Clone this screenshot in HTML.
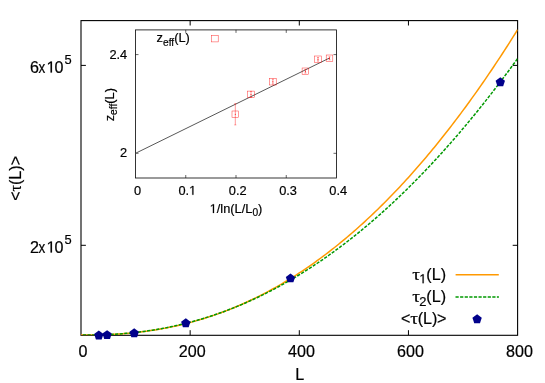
<!DOCTYPE html>
<html><head><meta charset="utf-8"><style>
html,body{margin:0;padding:0;background:#fff;}
svg{display:block;opacity:0.999;will-change:transform}
text{font-family:"Liberation Sans",sans-serif;fill:#000;stroke:#000;stroke-width:0.2px;}
.t{font-size:16.1px}
.s{font-size:12.9px}
.h{fill:none;stroke:none}
.ser{font-family:"Liberation Serif",serif;}
</style></head><body>
<svg width="545" height="383" viewBox="0 0 545 383">
<rect x="0" y="0" width="545" height="383" fill="#fff"/>
<!-- main frame -->
<rect x="81.0" y="20.6" width="436.6" height="314.70" fill="none" stroke="#000" stroke-width="1.1"/>
<g stroke="#000" stroke-width="1" fill="none">
<path d="M81.0,65.4 h4.9 M517.6,65.4 h-4.9 M81.0,245.3 h4.9 M517.6,245.3 h-4.9"/>
<path d="M190.15,335.1 v-4.9 M299.30,335.1 v-4.9 M408.45,335.1 v-4.9 M190.15,20.6 v4.9 M299.30,20.6 v4.9 M408.45,20.6 v4.9"/>
</g>
<!-- main curves -->
<clipPath id="cp"><rect x="81.0" y="20.6" width="436.6" height="314.65"/></clipPath>
<g clip-path="url(#cp)">
<path d="M81.00,335.10 L83.18,335.10 L85.37,335.09 L87.55,335.08 L89.73,335.06 L91.91,335.04 L94.10,335.00 L96.28,334.96 L98.46,334.91 L100.65,334.85 L102.83,334.79 L105.01,334.71 L107.20,334.62 L109.38,334.53 L111.56,334.42 L113.75,334.30 L115.93,334.18 L118.11,334.04 L120.29,333.89 L122.48,333.73 L124.66,333.56 L126.84,333.38 L129.03,333.18 L131.21,332.98 L133.39,332.76 L135.57,332.53 L137.76,332.28 L139.94,332.03 L142.12,331.76 L144.31,331.48 L146.49,331.19 L148.67,330.88 L150.86,330.56 L153.04,330.23 L155.22,329.89 L157.41,329.53 L159.59,329.15 L161.77,328.77 L163.95,328.37 L166.14,327.95 L168.32,327.53 L170.50,327.09 L172.69,326.63 L174.87,326.16 L177.05,325.67 L179.24,325.17 L181.42,324.66 L183.60,324.13 L185.78,323.59 L187.97,323.03 L190.15,322.46 L192.33,321.87 L194.52,321.26 L196.70,320.65 L198.88,320.01 L201.06,319.36 L203.25,318.70 L205.43,318.02 L207.61,317.32 L209.80,316.61 L211.98,315.88 L214.16,315.14 L216.35,314.38 L218.53,313.60 L220.71,312.81 L222.90,312.00 L225.08,311.18 L227.26,310.34 L229.44,309.48 L231.63,308.60 L233.81,307.71 L235.99,306.81 L238.18,305.88 L240.36,304.94 L242.54,303.99 L244.72,303.01 L246.91,302.02 L249.09,301.01 L251.27,299.99 L253.46,298.94 L255.64,297.88 L257.82,296.81 L260.01,295.71 L262.19,294.60 L264.37,293.47 L266.56,292.32 L268.74,291.16 L270.92,289.98 L273.10,288.78 L275.29,287.56 L277.47,286.32 L279.65,285.07 L281.84,283.80 L284.02,282.51 L286.20,281.20 L288.38,279.87 L290.57,278.53 L292.75,277.16 L294.93,275.78 L297.12,274.38 L299.30,272.97 L301.48,271.53 L303.67,270.07 L305.85,268.60 L308.03,267.11 L310.22,265.60 L312.40,264.07 L314.58,262.52 L316.76,260.95 L318.95,259.36 L321.13,257.76 L323.31,256.13 L325.50,254.49 L327.68,252.83 L329.86,251.15 L332.04,249.44 L334.23,247.72 L336.41,245.98 L338.59,244.23 L340.78,242.45 L342.96,240.65 L345.14,238.83 L347.33,236.99 L349.51,235.14 L351.69,233.26 L353.88,231.36 L356.06,229.45 L358.24,227.51 L360.42,225.56 L362.61,223.58 L364.79,221.58 L366.97,219.57 L369.16,217.53 L371.34,215.48 L373.52,213.40 L375.70,211.30 L377.89,209.19 L380.07,207.05 L382.25,204.89 L384.44,202.72 L386.62,200.52 L388.80,198.30 L390.99,196.06 L393.17,193.80 L395.35,191.52 L397.54,189.22 L399.72,186.90 L401.90,184.56 L404.08,182.19 L406.27,179.81 L408.45,177.41 L410.63,174.98 L412.82,172.54 L415.00,170.07 L417.18,167.58 L419.37,165.07 L421.55,162.54 L423.73,159.99 L425.91,157.42 L428.10,154.82 L430.28,152.21 L432.46,149.57 L434.65,146.91 L436.83,144.24 L439.01,141.53 L441.19,138.81 L443.38,136.07 L445.56,133.30 L447.74,130.52 L449.93,127.71 L452.11,124.88 L454.29,122.03 L456.48,119.16 L458.66,116.26 L460.84,113.35 L463.02,110.41 L465.21,107.45 L467.39,104.46 L469.57,101.46 L471.76,98.43 L473.94,95.39 L476.12,92.32 L478.31,89.22 L480.49,86.11 L482.67,82.97 L484.86,79.82 L487.04,76.63 L489.22,73.43 L491.40,70.21 L493.59,66.96 L495.77,63.69 L497.95,60.40 L500.14,57.08 L502.32,53.74 L504.50,50.38 L506.69,47.00 L508.87,43.60 L511.05,40.17 L513.23,36.72 L515.42,33.25 L517.60,29.75" fill="none" stroke="#ff9900" stroke-width="1.5"/>
<path d="M82.89,335.10 L85.07,335.10 L87.24,335.09 L89.41,335.07 L91.59,335.05 L93.76,335.02 L95.93,334.98 L98.11,334.93 L100.28,334.87 L102.45,334.80 L104.63,334.72 L106.80,334.64 L108.97,334.54 L111.15,334.43 L113.32,334.31 L115.50,334.18 L117.67,334.04 L119.84,333.88 L122.02,333.72 L124.19,333.54 L126.36,333.36 L128.54,333.16 L130.71,332.95 L132.88,332.72 L135.06,332.49 L137.23,332.24 L139.40,331.98 L141.58,331.71 L143.75,331.42 L145.92,331.13 L148.10,330.82 L150.27,330.49 L152.45,330.16 L154.62,329.81 L156.79,329.45 L158.97,329.07 L161.14,328.69 L163.31,328.28 L165.49,327.87 L167.66,327.44 L169.83,327.00 L172.01,326.55 L174.18,326.08 L176.35,325.60 L178.53,325.10 L180.70,324.59 L182.87,324.07 L185.05,323.53 L187.22,322.98 L189.40,322.42 L191.57,321.84 L193.74,321.25 L195.92,320.64 L198.09,320.02 L200.26,319.39 L202.44,318.74 L204.61,318.07 L206.78,317.40 L208.96,316.70 L211.13,316.00 L213.30,315.28 L215.48,314.54 L217.65,313.79 L219.83,313.03 L222.00,312.25 L224.17,311.45 L226.35,310.65 L228.52,309.82 L230.69,308.98 L232.87,308.13 L235.04,307.27 L237.21,306.38 L239.39,305.49 L241.56,304.57 L243.73,303.65 L245.91,302.70 L248.08,301.75 L250.25,300.78 L252.43,299.79 L254.60,298.79 L256.78,297.77 L258.95,296.74 L261.12,295.69 L263.30,294.62 L265.47,293.55 L267.64,292.45 L269.82,291.34 L271.99,290.22 L274.16,289.08 L276.34,287.92 L278.51,286.75 L280.68,285.57 L282.86,284.36 L285.03,283.15 L287.20,281.91 L289.38,280.67 L291.55,279.40 L293.73,278.12 L295.90,276.83 L298.07,275.51 L300.25,274.19 L302.42,272.85 L304.59,271.49 L306.77,270.11 L308.94,268.72 L311.11,267.32 L313.29,265.89 L315.46,264.46 L317.63,263.00 L319.81,261.53 L321.98,260.05 L324.15,258.55 L326.33,257.03 L328.50,255.50 L330.68,253.95 L332.85,252.38 L335.02,250.80 L337.20,249.20 L339.37,247.59 L341.54,245.96 L343.72,244.31 L345.89,242.65 L348.06,240.97 L350.24,239.27 L352.41,237.56 L354.58,235.83 L356.76,234.09 L358.93,232.33 L361.11,230.55 L363.28,228.76 L365.45,226.95 L367.63,225.12 L369.80,223.28 L371.97,221.42 L374.15,219.55 L376.32,217.66 L378.49,215.75 L380.67,213.82 L382.84,211.88 L385.01,209.93 L387.19,207.95 L389.36,205.96 L391.53,203.95 L393.71,201.93 L395.88,199.89 L398.06,197.83 L400.23,195.76 L402.40,193.66 L404.58,191.56 L406.75,189.43 L408.92,187.29 L411.10,185.13 L413.27,182.96 L415.44,180.77 L417.62,178.56 L419.79,176.33 L421.96,174.09 L424.14,171.83 L426.31,169.56 L428.48,167.27 L430.66,164.96 L432.83,162.63 L435.01,160.29 L437.18,157.93 L439.35,155.55 L441.53,153.15 L443.70,150.74 L445.87,148.32 L448.05,145.87 L450.22,143.41 L452.39,140.93 L454.57,138.43 L456.74,135.92 L458.91,133.39 L461.09,130.84 L463.26,128.27 L465.44,125.69 L467.61,123.09 L469.78,120.48 L471.96,117.84 L474.13,115.19 L476.30,112.52 L478.48,109.84 L480.65,107.14 L482.82,104.42 L485.00,101.68 L487.17,98.92 L489.34,96.15 L491.52,93.36 L493.69,90.56 L495.86,87.73 L498.04,84.89 L500.21,82.03 L502.39,79.16 L504.56,76.26 L506.73,73.35 L508.91,70.43 L511.08,67.48 L513.25,64.52 L515.43,61.54 L517.60,58.54" fill="none" stroke="#009900" stroke-width="1.5" stroke-dasharray="3.2,1.4"/>
</g>
<polygon points="98.80,330.60 103.46,333.99 101.68,339.46 95.92,339.46 94.14,333.99" fill="#00008b"/><polygon points="107.10,330.20 111.76,333.59 109.98,339.06 104.22,339.06 102.44,333.59" fill="#00008b"/><polygon points="134.20,328.30 138.86,331.69 137.08,337.16 131.32,337.16 129.54,331.69" fill="#00008b"/><polygon points="185.80,318.30 190.46,321.69 188.68,327.16 182.92,327.16 181.14,321.69" fill="#00008b"/><polygon points="290.50,273.50 295.16,276.89 293.38,282.36 287.62,282.36 285.84,276.89" fill="#00008b"/><polygon points="500.30,77.30 504.96,80.69 503.18,86.16 497.42,86.16 495.64,80.69" fill="#00008b"/>
<!-- main tick labels -->
<g class="t">
<text x="83.1" y="356.5" text-anchor="middle">0</text>
<text x="192.2" y="356.5" text-anchor="middle">200</text>
<text x="301.5" y="356.5" text-anchor="middle">400</text>
<text x="410.5" y="356.5" text-anchor="middle">600</text>
<text x="519.5" y="356.5" text-anchor="middle">800</text>
<text x="299.7" y="380.3" text-anchor="middle">L</text>
<text x="29.9" y="72.6">6</text><text transform="translate(38.45,72.6) scale(0.84,1)">x</text><text x="54.6" y="72.6">0</text><path d="M515 0V1237L197 1010V1180L530 1409H696V0Z" transform="translate(46.50,72.60) scale(0.00786,-0.00786)" fill="#000" stroke="#000" stroke-width="25.4"/><text x="64.5" y="64.4" class="s">5</text>
<text x="29.9" y="252.5">2</text><text transform="translate(38.45,252.5) scale(0.84,1)">x</text><text x="54.6" y="252.5">0</text><path d="M515 0V1237L197 1010V1180L530 1409H696V0Z" transform="translate(46.50,252.50) scale(0.00786,-0.00786)" fill="#000" stroke="#000" stroke-width="25.4"/><text x="64.5" y="244.3" class="s">5</text>
<text transform="translate(21.1,178.4) rotate(-90)" text-anchor="middle">&lt;<tspan class="ser">τ</tspan>(L)&gt;</text>
</g>
<!-- legend -->
<g class="t">
<text class="ser" transform="translate(412.2,279.6) scale(1.2,1)">τ</text><path d="M515 0V1237L197 1010V1180L530 1409H696V0Z" transform="translate(419.30,283.20) scale(0.00630,-0.00630)" fill="#000" stroke="#000" stroke-width="31.8"/><text x="446.0" y="279.6" text-anchor="end">(L)</text>
<text class="ser" transform="translate(412.2,301.9) scale(1.2,1)">τ</text><text x="419.2" y="305.5" class="s">2</text><text x="446.0" y="301.9" text-anchor="end">(L)</text>
<text x="401.1" y="324.0">&lt;</text><text class="ser" transform="translate(410.2,324.0) scale(1.2,1)">τ</text><text x="437.3" y="324.0" text-anchor="end">(L)</text><text x="437.1" y="324.0">&gt;</text>
</g>
<path d="M455.6,274.8 H498.8" stroke="#ff9900" stroke-width="1.5" fill="none"/>
<path d="M455.5,297.1 H498.9" stroke="#009900" stroke-width="1.5" stroke-dasharray="3.2,1.4" fill="none"/>
<polygon points="477.10,314.30 481.76,317.69 479.98,323.16 474.22,323.16 472.44,317.69" fill="#00008b"/>
<!-- inset -->
<rect x="135.5" y="29.9" width="201.0" height="148.1" fill="#fff" stroke="#111" stroke-width="0.85"/>
<g stroke="#000" stroke-width="0.6" fill="none">
<path d="M135.5,153.32 h3 M336.5,153.32 h-3 M135.5,54.58 h3 M336.5,54.58 h-3"/>
<path d="M185.75,178.0 v-3 M236.00,178.0 v-3 M286.25,178.0 v-3 M185.75,29.9 v3 M236.00,29.9 v3 M286.25,29.9 v3"/>
</g>
<path d="M135.50,153.32 L329.46,58.04" stroke="#585858" stroke-width="1" fill="none"/>
<g stroke="#ff0000" stroke-width="0.5" stroke-opacity="0.8" fill="none">
<rect x="232.00" y="111.00" width="6.60" height="6.60"/><path d="M235.30,103.70 V124.90 M234.30,103.70 h2 M234.30,124.90 h2"/><circle cx="235.30" cy="114.30" r="0.5" fill="#ff0000" stroke="none"/><rect x="247.70" y="91.10" width="6.60" height="6.60"/><path d="M251.00,91.40 V97.40 M250.00,91.40 h2 M250.00,97.40 h2"/><circle cx="251.00" cy="94.40" r="0.5" fill="#ff0000" stroke="none"/><rect x="269.60" y="78.40" width="6.60" height="6.60"/><path d="M272.90,79.20 V84.20 M271.90,79.20 h2 M271.90,84.20 h2"/><circle cx="272.90" cy="81.70" r="0.5" fill="#ff0000" stroke="none"/><rect x="302.10" y="68.00" width="6.60" height="6.60"/><path d="M305.40,69.50 V73.10 M304.40,69.50 h2 M304.40,73.10 h2"/><circle cx="305.40" cy="71.30" r="0.5" fill="#ff0000" stroke="none"/><rect x="314.70" y="56.00" width="6.60" height="6.60"/><path d="M318.00,57.50 V61.10 M317.00,57.50 h2 M317.00,61.10 h2"/><circle cx="318.00" cy="59.30" r="0.5" fill="#ff0000" stroke="none"/><rect x="326.20" y="55.00" width="6.60" height="6.60"/><path d="M329.50,56.80 V59.80 M328.50,56.80 h2 M328.50,59.80 h2"/><circle cx="329.50" cy="58.30" r="0.5" fill="#ff0000" stroke="none"/>
<rect x="211.60" y="35.30" width="6.6" height="6.6"/>
</g>
<g style="font-size:12.8px">
<text x="137.6" y="194.8" text-anchor="middle">0</text>
<text x="187.3" y="194.8" text-anchor="middle">0.<tspan class="h">1</tspan></text><path d="M515 0V1237L197 1010V1180L530 1409H696V0Z" transform="translate(189.08,194.80) scale(0.00625,-0.00625)" fill="#000" stroke="#000" stroke-width="32.0"/>
<text x="237.7" y="194.8" text-anchor="middle">0.2</text>
<text x="288.1" y="194.8" text-anchor="middle">0.3</text>
<text x="338.2" y="194.8" text-anchor="middle">0.4</text>
<text x="127.2" y="58.9" text-anchor="end">2.4</text>
<text x="127.2" y="157.3" text-anchor="end">2</text>
<text x="236" y="213.0" text-anchor="middle"><tspan class="h">1</tspan>/ln(L/L<tspan style="font-size:10.2px" dy="3.4">0</tspan><tspan dy="-3.4">)</tspan></text>
<text x="189.8" y="42.4" text-anchor="end">z<tspan style="font-size:10.2px" dy="3.6">eff</tspan><tspan dy="-3.6">(L)</tspan></text>
<path d="M515 0V1237L197 1010V1180L530 1409H696V0Z" transform="translate(209.69,213.00) scale(0.00625,-0.00625)" fill="#000" stroke="#000" stroke-width="32.0"/>
<text transform="translate(113.7,104.7) rotate(-90)" text-anchor="middle">z<tspan style="font-size:10.2px" dy="3.6">eff</tspan><tspan dy="-3.6">(L)</tspan></text>
</g>
</svg>
</body></html>
